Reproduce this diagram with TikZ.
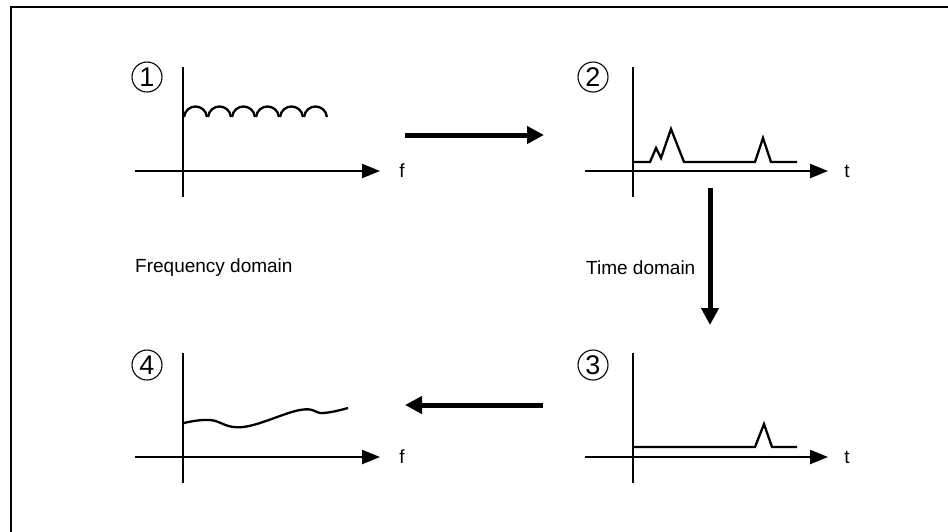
\documentclass[tikz,border=0pt]{standalone}
\usepackage{fontspec}
\setmainfont{Liberation Sans}
\usetikzlibrary{arrows.meta}
\tikzset{
  axis/.style={-{Triangle[length=18pt,width=14pt]}, line width=2.4pt},
  yaxis/.style={line width=2.4pt},
  sig/.style={line width=2.3pt, line join=miter},
  bigarr/.style={-{Triangle[length=17pt,width=17pt]}, line width=5pt},
  lbl/.style={font=\fontsize{19}{23}\selectfont, inner sep=0pt},
  num/.style={circle, draw, line width=1.1pt, minimum size=30pt, inner sep=0pt,
    font=\fontsize{27}{30}\selectfont},
}
\begin{document}
\begin{tikzpicture}[x=1pt,y=-1pt]
  \useasboundingbox (0,0) rectangle (948,531);
  \draw[line width=2.5pt] (11,7) rectangle (990,570);
  % plot 1: ripple spectrum
  \begin{scope}[shift={(183,171)}]
    \draw[yaxis] (0,-104) -- (0,26);
    \draw[axis] (-48,0) -- (197,0);
    \node[lbl] (f1) at (219,0) {f};
    \node[num] (n1) at (-36,-94) {1};
    \foreach \x in {0,24,48,72,96,120}
      \draw[sig] (\x+1,-54) .. controls (\x+3,-68) and (\x+22,-68) .. (\x+24,-54);
  \end{scope}
  % plot 2: impulse response
  \begin{scope}[shift={(633,171)}]
    \draw[yaxis] (0,-104) -- (0,26);
    \draw[axis] (-48,0) -- (195,0);
    \node[lbl] (t2) at (214,0) {t};
    \node[num] (n2) at (-40,-94) {2};
    \draw[sig] (0,-9) -- (17,-9) -- (23,-23) -- (28,-13) -- (38,-42) -- (51,-9)
      -- (122,-9) -- (130,-33) -- (138,-9) -- (164,-9);
  \end{scope}
  % plot 3: gated response
  \begin{scope}[shift={(633,457)}]
    \draw[yaxis] (0,-104) -- (0,26);
    \draw[axis] (-48,0) -- (195,0);
    \node[lbl] (t3) at (214,0) {t};
    \node[num] (n3) at (-40,-92) {3};
    \draw[sig] (0,-10) -- (122,-10) -- (131,-33) -- (139,-10) -- (164,-10);
  \end{scope}
  % plot 4: smoothed spectrum
  \begin{scope}[shift={(183,457)}]
    \draw[yaxis] (0,-104) -- (0,26);
    \draw[axis] (-48,0) -- (197,0);
    \node[lbl] (f4) at (219,0) {f};
    \node[num] (n4) at (-36,-92) {4};
    \draw[sig] plot[smooth, tension=0.7] coordinates {(1,-34) (27,-37) (60,-30) (117,-47) (140,-44) (165,-49)};
  \end{scope}
  \node[lbl, anchor=west] (fd) at (135,268) {Frequency domain};
  \node[lbl, anchor=west] (td) at (586,268) {Time domain};
  % transforms
  \coordinate (a1) at (405,135); \coordinate (a2) at (544,135);
  \coordinate (b1) at (710,188); \coordinate (b2) at (710,325);
  \coordinate (c1) at (543,405); \coordinate (c2) at (405,405);
  \draw[bigarr] (a1) -- (a2);
  \draw[bigarr] (b1) -- (b2);
  \draw[bigarr] (c1) -- (c2);
\end{tikzpicture}
\end{document}
